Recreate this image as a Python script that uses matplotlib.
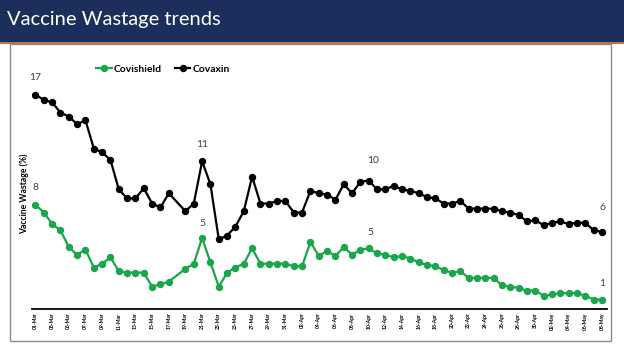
import matplotlib.pyplot as plt
import matplotlib.patches as patches
import numpy as np
import pandas as pd

plt.rcParams['font.family'] = ['Lato', 'DejaVu Sans']

# dias de 01-Mar a 08-May (18-Mar sem dado)
dates = pd.date_range('2021-03-01', '2021-05-08', freq='D')
tick_labels = [d.strftime('%d-%b') for d in dates][::2]

covaxin = [16.7, 16.3, 16.1, 15.3, 15.0, 14.4, 14.7, 12.5, 12.2, 11.6,
           9.3, 8.6, 8.6, 9.4, 8.2, 7.9, 9.0, None, 7.6, 8.2,
           11.5, 9.7, 5.4, 5.7, 6.4, 7.6, 10.3, 8.2, 8.2, 8.4,
           8.4, 7.5, 7.5, 9.2, 9.0, 8.9, 8.5, 9.7, 9.0, 9.9,
           10.0, 9.3, 9.3, 9.6, 9.3, 9.2, 9.0, 8.7, 8.6, 8.2,
           8.2, 8.4, 7.8, 7.8, 7.8, 7.8, 7.6, 7.5, 7.3, 6.8,
           6.9, 6.5, 6.7, 6.8, 6.6, 6.7, 6.7, 6.1, 6.0]
covishield = [8.1, 7.5, 6.6, 6.1, 4.8, 4.2, 4.6, 3.2, 3.5, 4.0,
              2.9, 2.8, 2.8, 2.8, 1.7, 1.9, 2.1, None, 3.1, 3.5,
              5.5, 3.6, 1.7, 2.8, 3.2, 3.5, 4.7, 3.5, 3.5, 3.5,
              3.5, 3.3, 3.3, 5.2, 4.1, 4.5, 4.1, 4.8, 4.2, 4.6,
              4.7, 4.3, 4.2, 4.0, 4.1, 3.9, 3.6, 3.4, 3.3, 3.0,
              2.8, 2.9, 2.4, 2.4, 2.4, 2.4, 1.8, 1.7, 1.6, 1.4,
              1.4, 1.0, 1.1, 1.2, 1.2, 1.2, 1.0, 0.7, 0.7]

# rótulos de dados: (índice, texto, deslocamento em pontos)
lab_covaxin = [(0, '17', (0, 9)), (20, '11', (0, 9)), (40, '10', (3, 11)), (68, '6', (0, 14))]
lab_covishield = [(0, '8', (0, 9)), (20, '5', (0, 7)), (40, '5', (1, 8)), (68, '1', (0, 8))]

green = '#1aa64b'
fig = plt.figure(figsize=(6.24, 3.51), dpi=100)

# faixa do título
fig.patches.append(patches.Rectangle((0, 1 - 42/351), 1, 42/351, transform=fig.transFigure,
                                     facecolor='#1c2e5b', edgecolor='none'))
fig.patches.append(patches.Rectangle((0, 1 - 43.5/351), 1, 1.5/351, transform=fig.transFigure,
                                     facecolor='#c8703a', edgecolor='none'))
fig.text(7/624, 1 - 20/351, 'Vaccine Wastage trends', color='white', fontsize=14.5,
         va='center', ha='left', fontweight='normal')
# caixa do gráfico
fig.patches.append(patches.Rectangle((10/624, 1 - 341/351), 601/624, 297/351,
                                     transform=fig.transFigure, facecolor='none',
                                     edgecolor='#8c8c8c', linewidth=1.0))

ax = fig.add_axes([32/624, (351 - 308.5)/351, 575/624, 230.4/351])
x = np.arange(len(dates))

for vals, cor, nome in [(covishield, green, 'Covishield'), (covaxin, 'black', 'Covaxin')]:
    xs = [i for i, v in zip(x, vals) if v is not None]
    ys = [v for v in vals if v is not None]
    ax.plot(xs, ys, color=cor, lw=1.6, marker='o', markersize=4.3, label=nome)

for vals, labs in [(covaxin, lab_covaxin), (covishield, lab_covishield)]:
    for i, txt, off in labs:
        ax.annotate(txt, (x[i], vals[i]), xytext=off, textcoords='offset points',
                    ha='center', va='bottom', fontsize=7.5, color='#404040')

ax.set_xlim(-0.42, 68.6)
ax.set_ylim(0, 18)
ax.set_xticks(x[::2])
ax.set_xticklabels(tick_labels, rotation=90, fontsize=3.6, fontweight='bold')
ax.tick_params(axis='x', length=0, pad=3)
ax.set_yticks([])
for s in ['top', 'right', 'left']:
    ax.spines[s].set_visible(False)
ax.spines['bottom'].set_linewidth(1.3)
ax.set_ylabel('Vaccine Wastage (%)', fontsize=6.2, fontweight='bold', labelpad=2)
ax.yaxis.set_label_coords(-3/575, 0.5)
ax.patch.set_alpha(0)

leg = ax.legend(loc='upper left', bbox_to_anchor=(55/575, (308.5 - 55)/230.4), ncol=2,
                frameon=False, handlelength=1.5, handletextpad=0.2, columnspacing=1.2,
                prop={'size': 7.5, 'weight': 'bold'})

fig.savefig('out.png', dpi=100)
